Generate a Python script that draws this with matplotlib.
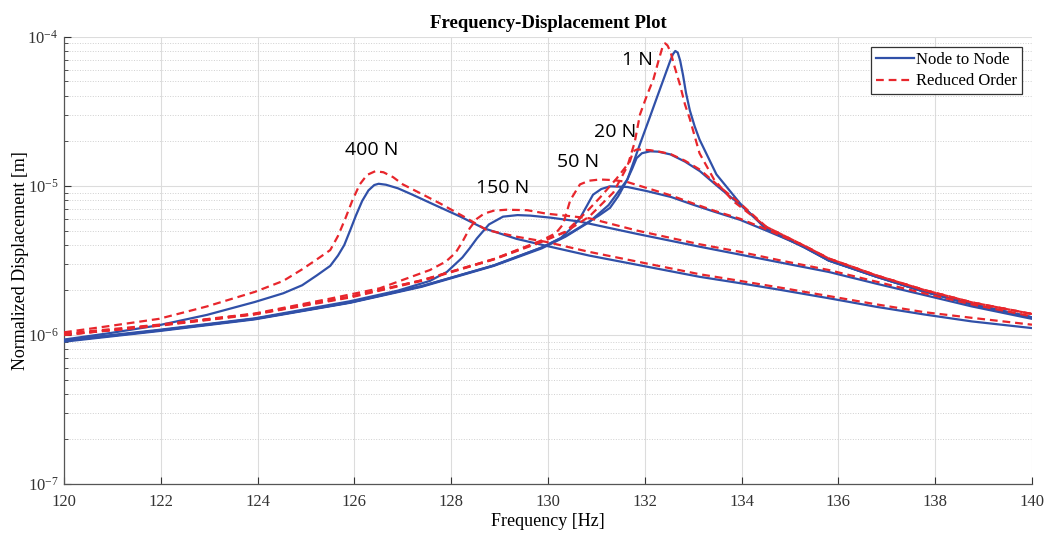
import numpy as np
import matplotlib
matplotlib.use('agg')
import matplotlib.pyplot as plt
from matplotlib.ticker import LogLocator, LogFormatterMathtext, NullFormatter

plt.rcParams['font.family'] = ['Liberation Serif', 'DejaVu Serif']
plt.rcParams['mathtext.fontset'] = 'custom'
plt.rcParams['mathtext.rm'] = 'Liberation Serif'
plt.rcParams['mathtext.it'] = 'Liberation Serif:italic'

# displacement values are in micrometres (x1e-6 m)
freq_1n_n2n = [120, 121.96, 123.94, 125.91, 127.39, 128.88, 129.87, 130.36, 130.85, 131.25, 131.64,
               131.90, 132.09, 132.25, 132.39, 132.52, 132.58, 132.63, 132.68, 132.73, 132.79,
               132.85, 132.93, 133.03, 133.13, 133.48, 133.97, 134.51, 135.30, 135.80, 136.79,
               137.77, 138.76, 140]
disp_1n_n2n = [0.90, 1.06, 1.27, 1.64, 2.10, 2.90, 3.80, 4.55, 5.7, 7.4, 11.0,
               19.0, 28, 39, 52, 68, 76, 80, 78, 69, 55,
               42, 32, 25, 20.4, 11.9, 7.6, 5.1, 3.85, 3.15, 2.45,
               1.95, 1.6, 1.31]

freq_1n_rom = [120, 121.96, 123.94, 125.91, 127.39, 128.88, 129.87, 130.36, 130.85, 131.35, 131.64,
               131.79, 131.90, 132.04, 132.18, 132.30, 132.37, 132.42, 132.47, 132.53, 132.62,
               132.73, 132.83, 132.93, 133.13, 133.43, 133.82, 134.51, 135.30, 135.80, 136.79,
               137.77, 138.76, 140]
disp_1n_rom = [1.0, 1.15, 1.37, 1.78, 2.30, 3.20, 4.20, 4.90, 6.2, 9.0, 13.5,
               19.5, 30, 40, 52, 72, 86, 90, 87, 79, 62,
               47, 35, 28, 16.5, 11.0, 7.9, 5.3, 3.95, 3.25, 2.5,
               2.0, 1.65, 1.38]

freq_20n_n2n = [120, 121.96, 123.94, 125.91, 127.39, 128.88, 129.87, 130.36, 130.85, 131.05, 131.28,
                131.45, 131.62, 131.74, 131.83, 131.94, 132.11, 132.28, 132.53, 132.83, 133.14,
                133.52, 133.97, 134.51, 135.30, 135.80, 136.79, 137.77, 138.76, 140]
disp_20n_n2n = [0.91, 1.07, 1.28, 1.65, 2.12, 2.92, 3.85, 4.6, 5.75, 6.3, 7.1,
                8.5, 10.7, 13, 15.3, 16.5, 17.0, 16.9, 16.2, 14.5, 12.5,
                9.8, 7.45, 5.2, 3.85, 3.15, 2.45, 1.95, 1.6, 1.31]

freq_20n_rom = [120, 121.96, 123.94, 125.91, 127.39, 128.88, 129.87, 130.36, 130.80, 131.07, 131.42,
                131.69, 131.76, 131.84, 132.11, 132.34, 132.53, 132.83, 133.14, 133.52, 133.97,
                134.51, 135.30, 135.80, 136.79, 137.77, 138.76, 140]
disp_20n_rom = [1.0, 1.16, 1.38, 1.8, 2.32, 3.22, 4.25, 4.9, 6.7, 8.3, 11.2,
                14.5, 17.0, 17.5, 17.3, 16.8, 16.3, 14.7, 12.8, 10.0, 7.6,
                5.3, 3.95, 3.25, 2.5, 2.0, 1.65, 1.38]

freq_50n_n2n = [120, 121.96, 123.94, 125.91, 127.39, 128.88, 129.87, 130.26, 130.46, 130.66, 130.81,
                130.93, 131.10, 131.28, 131.64, 132.04, 132.54, 133.00, 133.43, 133.97, 134.51,
                135.30, 135.80, 136.79, 137.77, 138.76, 140]
disp_50n_n2n = [0.91, 1.07, 1.28, 1.65, 2.12, 2.92, 3.85, 4.45, 5.1, 6.05, 7.4,
                8.7, 9.5, 9.9, 9.8, 9.2, 8.4, 7.45, 6.7, 5.9, 5.0,
                3.9, 3.15, 2.45, 1.95, 1.6, 1.31]

freq_50n_rom = [120, 121.96, 123.94, 125.91, 127.39, 128.88, 129.87, 130.16, 130.31, 130.46, 130.66,
                130.85, 131.07, 131.35, 131.63, 131.84, 132.11, 132.54, 133.00, 133.43, 133.97,
                134.51, 135.30, 135.80, 136.79, 137.77, 138.76, 140]
disp_50n_rom = [1.0, 1.16, 1.38, 1.8, 2.32, 3.22, 4.3, 4.8, 5.5, 8.0, 10.2,
                10.8, 11.0, 10.9, 10.6, 10.1, 9.5, 8.6, 7.6, 6.8, 6.0,
                5.1, 3.95, 3.25, 2.5, 2.0, 1.65, 1.38]

freq_150n_n2n = [120, 121.96, 123.94, 125.91, 126.90, 127.56, 127.91, 128.23, 128.38, 128.53, 128.78,
                 129.07, 129.37, 129.63, 130.06, 130.65, 131.84, 133.13, 133.97, 134.81, 135.80,
                 136.79, 137.77, 138.76, 140]
disp_150n_n2n = [0.92, 1.08, 1.29, 1.68, 1.98, 2.3, 2.64, 3.3, 3.8, 4.43, 5.5,
                 6.2, 6.35, 6.3, 6.1, 5.75, 4.75, 3.9, 3.45, 3.05, 2.64,
                 2.2, 1.85, 1.55, 1.28]

freq_150n_rom = [120, 121.96, 123.94, 125.50, 126.52, 127.56, 127.89, 128.09, 128.23, 128.38, 128.53,
                 128.68, 128.88, 129.14, 129.57, 129.96, 130.85, 131.84, 133.13, 133.97, 134.81,
                 135.80, 136.79, 137.77, 138.76, 140]
disp_150n_rom = [1.02, 1.17, 1.39, 1.75, 2.05, 2.72, 3.1, 3.55, 4.2, 5.17, 6.0,
                 6.5, 6.8, 6.9, 6.85, 6.5, 6.05, 5.0, 4.05, 3.6, 3.15,
                 2.72, 2.27, 1.9, 1.6, 1.33]

freq_400n_n2n = [120, 120.97, 121.96, 122.95, 123.94, 124.53, 124.92, 125.22, 125.50, 125.66, 125.79,
                 125.91, 126.03, 126.16, 126.29, 126.41, 126.50, 126.65, 126.90, 127.20, 127.63,
                 128.19, 128.66, 129.35, 130.04, 130.85, 131.84, 133.13, 133.97, 134.81, 135.80,
                 136.79, 137.77, 138.76, 140]
disp_400n_n2n = [0.93, 1.03, 1.16, 1.36, 1.66, 1.9, 2.15, 2.5, 2.9, 3.4, 4.0,
                 5.0, 6.3, 7.9, 9.3, 10.1, 10.3, 10.15, 9.6, 8.7, 7.5,
                 6.2, 5.2, 4.4, 3.9, 3.4, 2.95, 2.45, 2.22, 2.0, 1.76,
                 1.54, 1.37, 1.23, 1.11]

freq_400n_rom = [120, 120.97, 121.96, 122.95, 123.94, 124.53, 124.92, 125.22, 125.50, 125.66, 125.81,
                 125.96, 126.11, 126.26, 126.43, 126.60, 126.80, 127.00, 127.39, 127.77, 128.32,
                 128.73, 129.35, 129.96, 130.85, 131.84, 133.13, 133.97, 134.81, 135.80, 136.79,
                 137.77, 138.76, 140]
disp_400n_rom = [1.04, 1.15, 1.28, 1.55, 1.94, 2.3, 2.75, 3.2, 3.7, 4.6, 6.0,
                 8.0, 10.2, 11.8, 12.5, 12.3, 11.4, 10.2, 8.8, 7.6, 6.05,
                 5.05, 4.55, 4.2, 3.6, 3.1, 2.55, 2.3, 2.07, 1.82, 1.6,
                 1.42, 1.3, 1.17]

force_labels = ['1 N', '20 N', '50 N', '150 N', '400 N']
label_freq = [131.84, 131.38, 130.62, 129.07, 126.36]
label_disp = [70, 22.9, 14.4, 9.66, 17.3]

n2n_freqs = [freq_1n_n2n, freq_20n_n2n, freq_50n_n2n, freq_150n_n2n, freq_400n_n2n]
n2n_disps = [disp_1n_n2n, disp_20n_n2n, disp_50n_n2n, disp_150n_n2n, disp_400n_n2n]
rom_freqs = [freq_1n_rom, freq_20n_rom, freq_50n_rom, freq_150n_rom, freq_400n_rom]
rom_disps = [disp_1n_rom, disp_20n_rom, disp_50n_rom, disp_150n_rom, disp_400n_rom]

blue = '#3050a8'
red = '#e8262c'

fig = plt.figure(figsize=(10.55, 5.33), dpi=100)
ax = fig.add_axes([0.0607, 0.0919, 0.9175, 0.8396])

for i in range(len(n2n_freqs)):
    ax.plot(n2n_freqs[i], np.array(n2n_disps[i]) * 1e-6, color=blue, lw=1.6,
            label='Node to Node' if i == 0 else None, zorder=3)
for i in range(len(rom_freqs)):
    ax.plot(rom_freqs[i], np.array(rom_disps[i]) * 1e-6, color=red, lw=1.6,
            linestyle=(0, (3.5, 2.2)), label='Reduced Order' if i == 0 else None, zorder=4)

for lab, fx, dy in zip(force_labels, label_freq, label_disp):
    ax.text(fx, dy * 1e-6, lab, family=['Open Sans', 'DejaVu Sans'], fontsize=14,
            ha='center', va='center', zorder=5)

ax.set_yscale('log')
ax.set_xlim(120, 140)
ax.set_ylim(1e-7, 1e-4)
ax.set_xticks(np.arange(120, 141, 2))
ax.yaxis.set_major_locator(LogLocator(base=10))
ax.yaxis.set_major_formatter(LogFormatterMathtext())
ax.yaxis.set_minor_locator(LogLocator(base=10, subs=np.arange(2, 10)))
ax.yaxis.set_minor_formatter(NullFormatter())

ax.grid(which='major', color='#dcdcdc', lw=0.8, zorder=0)
ax.grid(which='minor', axis='y', color='#d0d0d0', lw=0.7, linestyle=':', zorder=0)
ax.set_axisbelow(True)

for s in ['top', 'right']:
    ax.spines[s].set_visible(False)
for s in ['left', 'bottom']:
    ax.spines[s].set_color('#555555')
    ax.spines[s].set_linewidth(0.9)

ax.tick_params(which='both', direction='in', top=False, right=False, colors='#333333',
               labelsize=12)
ax.tick_params(axis='x', which='major', length=5, pad=7)
ax.tick_params(axis='y', which='major', length=5, pad=4)
ax.tick_params(which='minor', length=3)

ax.set_title('Frequency-Displacement Plot', fontsize=13.5, fontweight='bold', pad=6)
ax.set_xlabel('Frequency [Hz]', fontsize=13, labelpad=2)
ax.set_ylabel('Normalized Displacement [m]', fontsize=13, labelpad=-1)

leg = ax.legend(loc='upper right', fontsize=12, frameon=True, fancybox=False,
                edgecolor='#333333', framealpha=1, borderpad=0.3, handlelength=2.3,
                handletextpad=0.1, labelspacing=0.35, borderaxespad=0.6)
leg.get_frame().set_linewidth(0.9)

fig.savefig('out.png', dpi=100)
